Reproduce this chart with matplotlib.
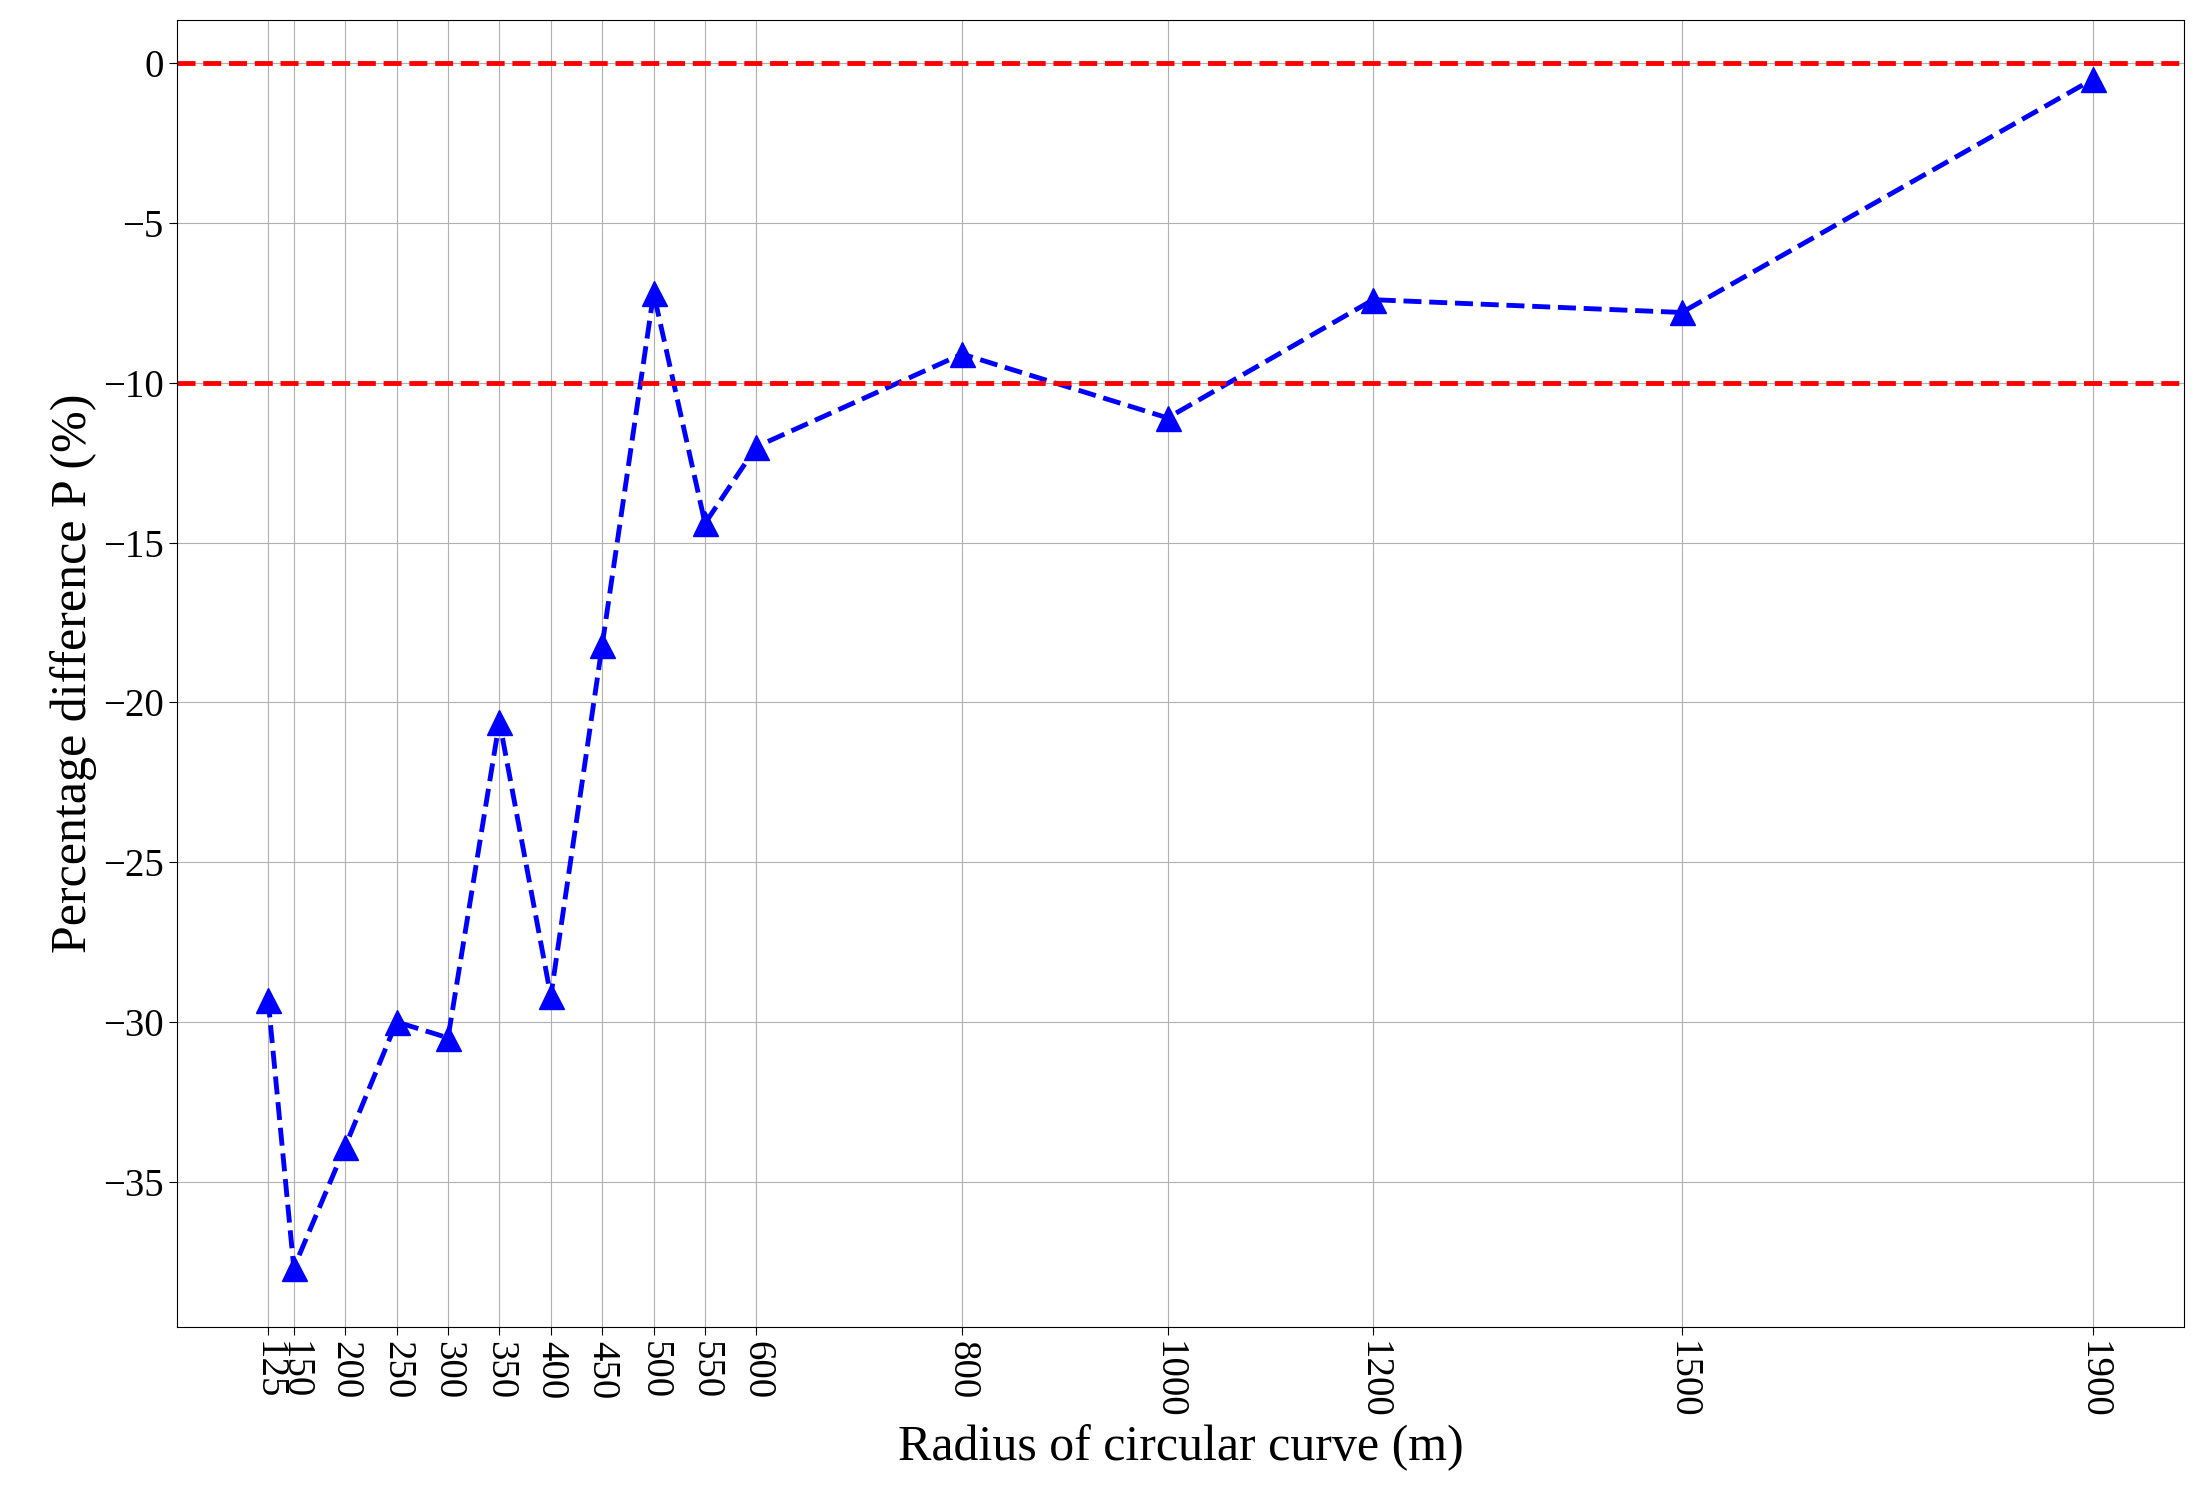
import matplotlib.pyplot as plt

radius = [125, 150, 200, 250, 300, 350, 400, 450, 500, 550, 600, 800, 1000, 1200, 1500, 1900]
pdiff = [-29.3, -37.7, -33.9, -30.0, -30.5, -20.6, -29.2, -18.2, -7.2, -14.4, -12.0,
         -9.1, -11.1, -7.4, -7.8, -0.5]
ref_lines = [0, -10]

plt.rcParams['font.family'] = ['Liberation Serif', 'DejaVu Serif']

fig = plt.figure(figsize=(22.01, 14.94), dpi=100)
# axes box measured on the 1568x1058 view of the reference
ax = fig.add_axes([126 / 1568, 1 - 940 / 1058, 1430 / 1568, 926 / 1058])

ax.plot(radius, pdiff, 'b--^', linewidth=3.5, markersize=18)
for y in ref_lines:
    ax.axhline(y, color='red', linestyle='--', linewidth=3.5)

ax.set_xticks(radius)
ax.set_xticklabels([str(r) for r in radius], rotation=-90)
ax.tick_params(labelsize=28, length=6)
ax.grid(True, color='#b0b0b0')
ax.set_xlabel('Radius of circular curve (m)', fontsize=36)
ax.set_ylabel('Percentage difference P (%)', fontsize=36)

fig.savefig('out.png', dpi=100)
